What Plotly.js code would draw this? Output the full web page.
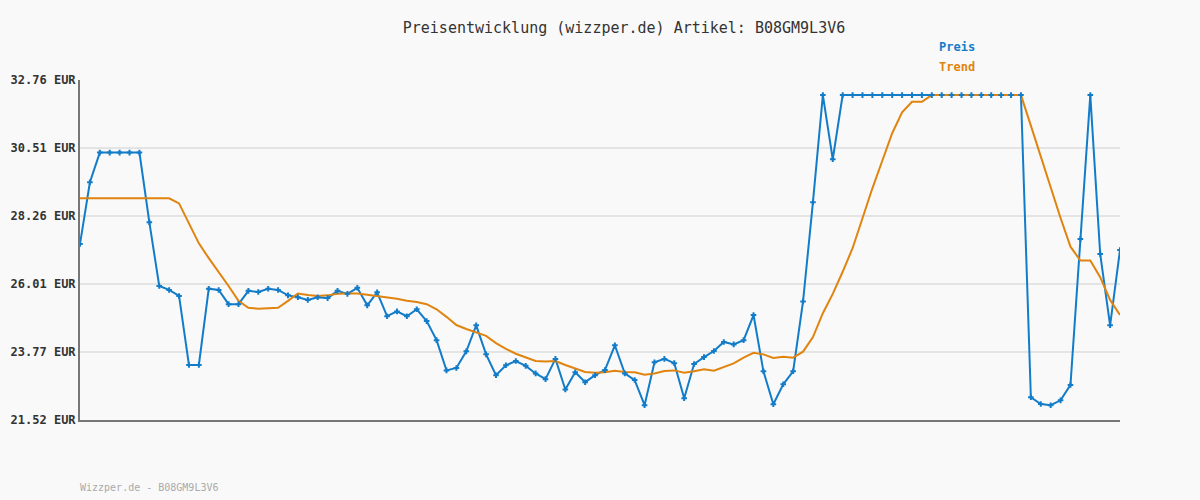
<!DOCTYPE html>
<html>
<head>
<meta charset="utf-8">
<script src="https://cdn.plot.ly/plotly-3.0.1.min.js"></script>
<style>
html,body{margin:0;padding:0;background:#f9f9f9;}
#chart{width:1200px;height:500px;}
</style>
</head>
<body>
<div id="chart"></div>
<script>
const preis = [
27.34,29.38,30.36,30.36,30.36,30.36,30.36,28.06,25.95,25.82,
25.62,23.34,23.34,25.86,25.82,25.35,25.35,25.79,25.75,25.86,
25.82,25.64,25.58,25.49,25.58,25.55,25.79,25.69,25.89,25.31,
25.74,24.95,25.11,24.95,25.18,24.79,24.16,23.16,23.24,23.79,
24.65,23.69,23.00,23.33,23.47,23.31,23.06,22.87,23.54,22.53,
23.10,22.77,23.00,23.17,23.99,23.06,22.84,22.01,23.43,23.54,
23.40,22.24,23.37,23.60,23.80,24.10,24.02,24.16,24.99,23.13,
22.04,22.70,23.13,25.44,28.72,32.26,30.14,32.26,32.26,32.26,
32.26,32.26,32.26,32.26,32.26,32.26,32.26,32.26,32.26,32.26,
32.26,32.26,32.26,32.26,32.26,32.26,22.27,22.05,22.01,22.17,
22.68,27.50,32.26,27.01,24.65,27.14
];
const trend = [
28.85,28.85,28.85,28.85,28.85,28.85,28.85,28.85,28.85,28.85,
28.68,28.04,27.36,26.87,26.42,25.95,25.46,25.23,25.20,25.22,
25.23,25.46,25.70,25.65,25.62,25.64,25.69,25.70,25.70,25.66,
25.62,25.58,25.53,25.46,25.42,25.35,25.18,24.93,24.66,24.53,
24.41,24.30,24.06,23.87,23.71,23.58,23.47,23.45,23.47,23.34,
23.22,23.11,23.08,23.10,23.15,23.11,23.10,23.02,23.06,23.14,
23.16,23.08,23.13,23.20,23.15,23.26,23.39,23.58,23.74,23.69,
23.57,23.61,23.58,23.78,24.26,25.05,25.69,26.42,27.20,28.19,
29.18,30.09,31.00,31.69,32.04,32.04,32.26,32.26,32.26,32.26,
32.26,32.26,32.26,32.26,32.26,32.26,31.25,30.23,29.22,28.20,
27.25,26.79,26.79,26.24,25.49,24.99
];
const yTicks = [21.52, 23.77, 26.01, 28.26, 30.51, 32.76];
const yTickLabels = ["21.52 EUR","23.77 EUR","26.01 EUR","28.26 EUR","30.51 EUR","32.76 EUR"];
const titleText = "Preisentwicklung (wizzper.de) Artikel: B08GM9L3V6";
const footerText = "Wizzper.de - B08GM9L3V6";
const seriesNames = ["Preis","Trend"];

const blue = "#137cc9";
const orange = "#e0840f";
const x = preis.map((_, i) => i);
const mono = "DejaVu Sans Mono, monospace";

const traces = [
  {x: x, y: preis, mode: "lines", line: {color: blue, width: 2}, hoverinfo: "skip"},
  {x: x, y: trend, mode: "lines", line: {color: orange, width: 2}, hoverinfo: "skip"},
  {x: x, y: preis, mode: "markers", marker: {color: blue, symbol: "cross-thin", size: 4, line: {color: blue, width: 2}}, hoverinfo: "skip"}
];

const layout = {
  width: 1200, height: 500,
  paper_bgcolor: "#f9f9f9", plot_bgcolor: "#f9f9f9",
  margin: {l: 80, r: 80, t: 80, b: 80},
  showlegend: false,
  title: {text: titleText, x: 0.52, xanchor: "center", y: 0.944, yanchor: "middle",
          font: {family: mono, size: 15, color: "#333"}},
  xaxis: {range: [0, preis.length - 1], showgrid: false, zeroline: false,
          showticklabels: false, ticks: "", showline: true, linecolor: "#777", linewidth: 2},
  yaxis: {range: [yTicks[0], yTicks[yTicks.length-1]], tickmode: "array", tickvals: yTicks, ticktext: yTickLabels,
          showgrid: true, gridcolor: "#e4e4e4", gridwidth: 2, zeroline: false,
          showline: true, linecolor: "#777", linewidth: 2, ticks: "",
          tickfont: {family: mono, size: 12, color: "#333", weight: "bold"}},
  annotations: [
    {xref: "paper", yref: "paper", x: (937-80)/1040, y: (420-47)/340, xanchor: "left", yanchor: "middle",
     text: "<b>" + seriesNames[0] + "</b>", showarrow: false, font: {family: mono, size: 12, color: blue}},
    {xref: "paper", yref: "paper", x: (937-80)/1040, y: (420-67)/340, xanchor: "left", yanchor: "middle",
     text: "<b>" + seriesNames[1] + "</b>", showarrow: false, font: {family: mono, size: 12, color: orange}},
    {xref: "paper", yref: "paper", x: -2/1040, y: (420-487)/340, xanchor: "left", yanchor: "middle",
     text: footerText, showarrow: false, font: {family: mono, size: 10, color: "#aaa"}}
  ]
};

Plotly.newPlot("chart", traces, layout, {staticPlot: true});
</script>
</body>
</html>
